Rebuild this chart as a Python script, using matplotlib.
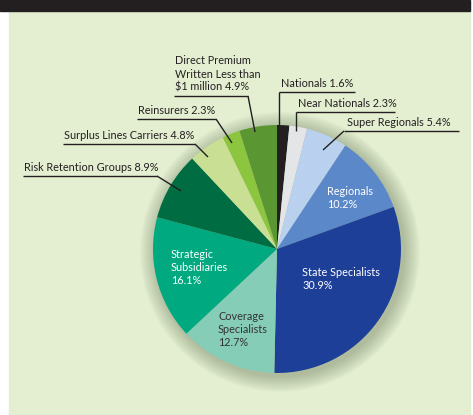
import matplotlib
matplotlib.use("Agg")
import matplotlib.pyplot as plt
from matplotlib.patches import Circle, Rectangle

categories = ["Nationals", "Near Nationals", "Super Regionals", "Regionals",
              "State Specialists", "Coverage Specialists", "Strategic Subsidiaries",
              "Risk Retention Groups", "Surplus Lines Carriers", "Reinsurers",
              "Direct Premium Written Less than $1 million"]
values = [1.6, 2.3, 5.4, 10.2, 30.9, 12.7, 16.1, 8.9, 4.8, 2.3, 4.9]
colors = ["#231f20", "#e4e5e7", "#b9d1ef", "#5b88c8", "#1e3f98", "#86cdb7",
          "#00a97f", "#006c42", "#c9e094", "#8cc63f", "#5a9632"]

FONT = ["Lato", "DejaVu Sans"]
FS = 7.8
W, H = 473, 415

fig = plt.figure(figsize=(W / 100, H / 100), dpi=100)
fig.patch.set_facecolor("white")
ax = fig.add_axes([0, 0, 1, 1])

def Y(y):
    return H - y

# background panel and top bar
ax.add_patch(Rectangle((9, 0), 461, Y(11), color="#e4efd2", zorder=0))
ax.add_patch(Rectangle((0, Y(11)), 470, 11, color="#231f20", zorder=0))

cx, cy, R = 277, Y(249), 124

# soft shadow
for i in range(16, 0, -1):
    ax.add_patch(Circle((cx + 3, cy - 3), R + i, color="#3d4a2a", alpha=0.018,
                        lw=0, zorder=1))

ax.pie(values, colors=colors, startangle=90, counterclock=False,
       center=(cx, cy), radius=R, frame=True,
       wedgeprops=dict(linewidth=0, zorder=2))
ax.set_xlim(0, W)
ax.set_ylim(0, H)
ax.set_aspect("equal")
ax.axis("off")

tk = dict(fontsize=FS, family=FONT, color="#231f20", zorder=5)
lk = dict(color="#231f20", lw=1.0, zorder=5, solid_capstyle="butt")

# outside labels: text, text_x, underline_y, underline x0, x1, leader start, leader end
outside = [
    ("Direct Premium\nWritten Less than\n$1 million 4.9%", 175, 96, 174, 248, (248, 96), (255, 132)),
    ("Reinsurers 2.3%", 138, 119, 137, 216, (216, 119), (232, 143)),
    ("Surplus Lines Carriers 4.8%", 64, 144, 63, 195, (195, 144), (208, 157)),
    ("Risk Retention Groups 8.9%", 24, 176, 23, 157, (157, 176), (181, 191)),
    ("Nationals 1.6%", 281, 92, 279, 355, (279, 92), (279, 126)),
    ("Near Nationals 2.3%", 298, 112, 296, 395, (296, 112), (296, 131)),
    ("Super Regionals 5.4%", 347, 131, 344, 459, (344, 131), (323, 150)),
]
for txt, tx, uy, x0, x1, p0, p1 in outside:
    ax.text(tx, Y(uy - 3), txt, ha="left", va="bottom", linespacing=1.25, **tk)
    ax.plot([x0, x1], [Y(uy), Y(uy)], **lk)
    ax.plot([p0[0], p1[0]], [Y(p0[1]), Y(p1[1])], **lk)

# inside labels
inside = [
    ("Regionals\n10.2%", 327, 186, "white"),
    ("State Specialists\n30.9%", 302, 267, "white"),
    ("Coverage\nSpecialists\n12.7%", 218, 311, "#333333"),
    ("Strategic\nSubsidiaries\n16.1%", 171, 249, "white"),
]
for txt, tx, ty, c in inside:
    ax.text(tx, Y(ty), txt, ha="left", va="top", linespacing=1.25,
            fontsize=FS, family=FONT, color=c, zorder=5)

fig.savefig("out.png", dpi=100, facecolor=fig.get_facecolor())
